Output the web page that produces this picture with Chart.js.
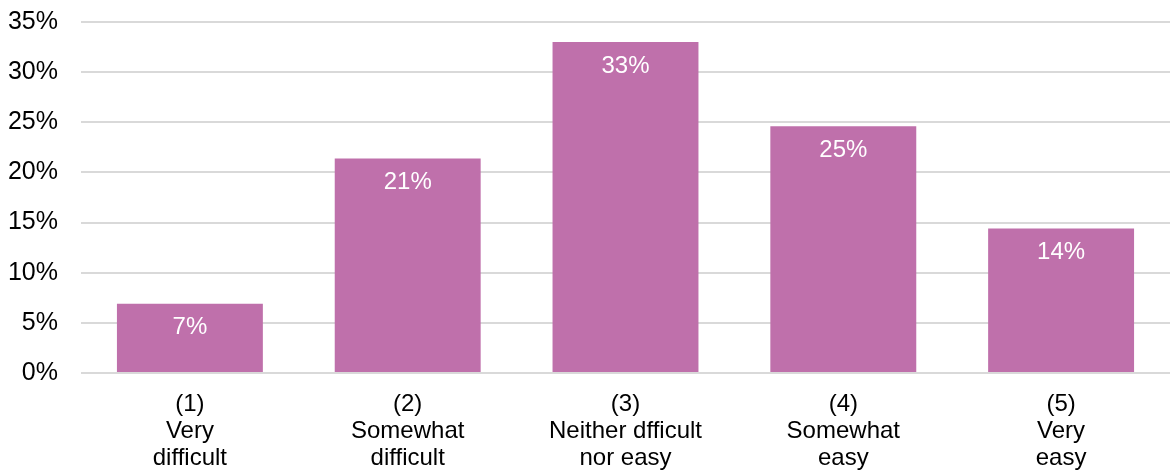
<!DOCTYPE html>
<html>
<head>
<meta charset="utf-8">
<script src="https://cdn.jsdelivr.net/npm/chart.js@4/dist/chart.umd.min.js"></script>
<style>
  html, body { margin: 0; padding: 0; background: #fff; }
  #wrap { width: 1170px; height: 473px; position: relative; }
</style>
</head>
<body>
<div id="wrap"><canvas id="chart"></canvas></div>
<script>
// categories, values (percent) and tick labels
const CATEGORIES = [
  ["(1)", "Very", "difficult"],
  ["(2)", "Somewhat", "difficult"],
  ["(3)", "Neither dfficult", "nor easy"],
  ["(4)", "Somewhat", "easy"],
  ["(5)", "Very", "easy"]
];
const VALUES = [6.9, 21.4, 33.0, 24.6, 14.4];
const VALUE_LABELS = ["7%", "21%", "33%", "25%", "14%"];
const Y_TICKS = [0, 5, 10, 15, 20, 25, 30, 35];

const FONT = "'Liberation Sans', Arial, sans-serif";
const BAR_COLOR = '#bf70ab';

// white labels inside top of each bar
const barLabels = {
  id: 'barLabels',
  afterDatasetsDraw(chart) {
    const ctx = chart.ctx;
    const meta = chart.getDatasetMeta(0);
    ctx.save();
    ctx.fillStyle = '#ffffff';
    ctx.font = `24px ${FONT}`;
    ctx.textAlign = 'center';
    ctx.textBaseline = 'middle';
    meta.data.forEach((bar, i) => {
      ctx.fillText(VALUE_LABELS[i], bar.x, bar.y + 24);
    });
    ctx.restore();
  }
};

new Chart(document.getElementById('chart'), {
  type: 'bar',
  data: {
    labels: CATEGORIES,
    datasets: [{
      data: VALUES,
      backgroundColor: BAR_COLOR,
      borderWidth: 0,
      categoryPercentage: 1,
      barPercentage: 0.67
    }]
  },
  options: {
    responsive: true,
    maintainAspectRatio: false,
    animation: false,
    layout: { padding: 0 },
    plugins: {
      legend: { display: false },
      tooltip: { enabled: false }
    },
    scales: {
      x: {
        grid: { display: false, drawTicks: false },
        border: { display: false },
        afterFit(axis) { axis.height = 100; axis.paddingLeft = 0; axis.paddingRight = 0; },
        ticks: {
          color: '#000',
          font: { family: FONT, size: 24, lineHeight: 1.125 },
          padding: 18,
          maxRotation: 0,
          autoSkip: false
        }
      },
      y: {
        min: 0,
        max: 35,
        afterBuildTicks(axis) { axis.ticks = Y_TICKS.map(v => ({ value: v })); },
        afterFit(axis) { axis.width = 81; axis.paddingTop = 22; axis.paddingBottom = 0; },
        grid: { color: '#d9d9d9', lineWidth: 2, drawTicks: false },
        border: { display: false },
        ticks: {
          color: '#000',
          font: { family: FONT, size: 25 },
          padding: 23,
          callback: v => v + '%'
        }
      }
    }
  },
  plugins: [barLabels]
});
</script>
</body>
</html>
